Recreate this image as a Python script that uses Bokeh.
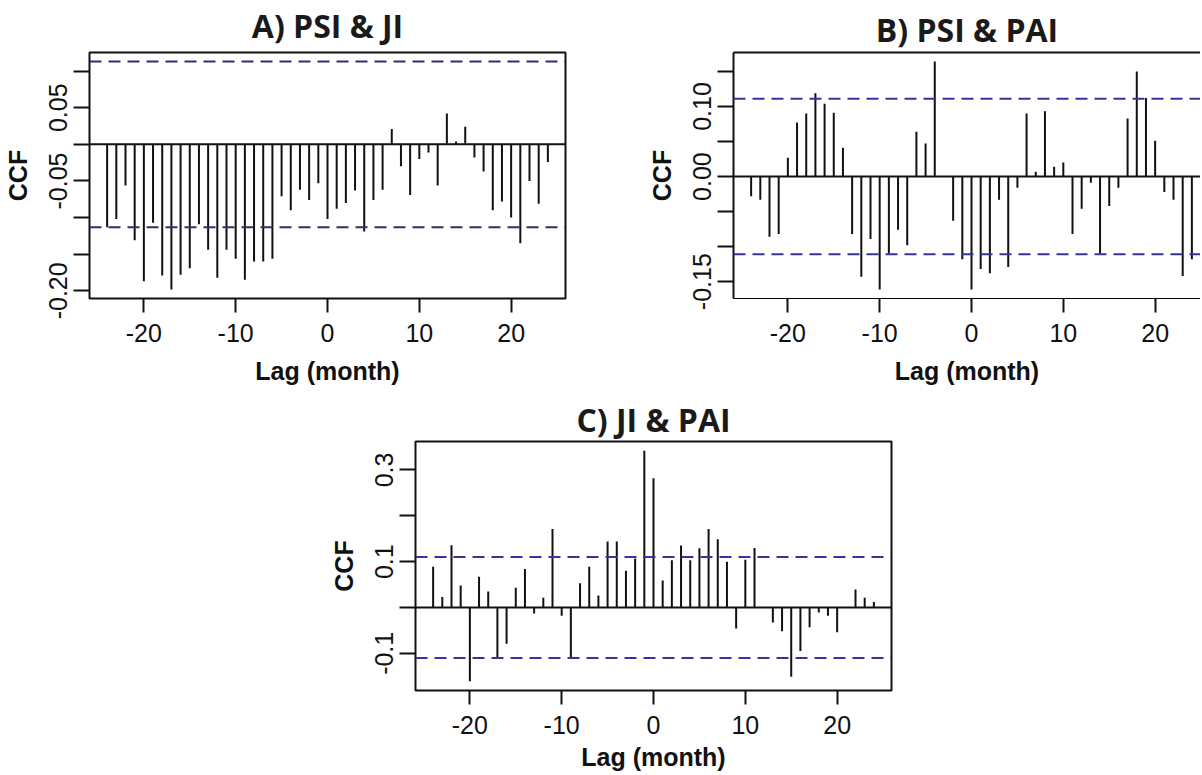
from bokeh.plotting import figure
from bokeh.models import (Span, FixedTicker, Spacer, LinearAxis, ColumnDataSource,
                          PrintfTickFormatter)
from bokeh.layouts import column, row
from bokeh.embed import file_html
from bokeh.resources import INLINE

# ---------------- data ----------------
LAGS = list(range(-24, 25))

CCF_PSI_JI = [-0.113, -0.102, -0.056, -0.131, -0.187, -0.107, -0.179, -0.198, -0.178, -0.169,
              -0.109, -0.144, -0.182, -0.144, -0.156, -0.185, -0.160, -0.160, -0.156, -0.071,
              -0.090, -0.062, -0.076, -0.053, -0.102, -0.088, -0.080, -0.063, -0.119, -0.076,
              -0.062, 0.021, -0.030, -0.069, -0.020, -0.011, -0.056, 0.042, 0.004, 0.024,
              -0.018, -0.037, -0.090, -0.078, -0.100, -0.135, -0.050, -0.081, -0.024]

CCF_PSI_PAI = [-0.028, -0.033, -0.086, -0.082, 0.027, 0.077, 0.090, 0.119, 0.104, 0.091,
               0.041, -0.082, -0.143, -0.089, -0.161, -0.110, -0.076, -0.098, 0.064, 0.047,
               0.164, 0.000, -0.063, -0.118, -0.161, -0.132, -0.138, -0.033, -0.129, -0.016,
               0.090, 0.007, 0.093, 0.014, 0.020, -0.082, -0.046, -0.009, -0.110, -0.042,
               -0.016, 0.083, 0.150, 0.112, 0.051, -0.022, -0.033, -0.142, -0.118]

CCF_JI_PAI = [0.089, 0.023, 0.136, 0.048, -0.161, 0.067, 0.035, -0.108, -0.079, 0.043,
              0.084, -0.013, 0.021, 0.171, -0.018, -0.108, 0.053, 0.089, 0.026, 0.144,
              0.144, 0.080, 0.107, 0.342, 0.282, 0.059, 0.103, 0.135, 0.103, 0.129,
              0.171, 0.149, 0.100, -0.046, 0.104, 0.130, 0.000, -0.033, -0.052, -0.151,
              -0.095, -0.043, -0.011, -0.018, -0.054, 0.000, 0.039, 0.021, 0.012]

CI_A = 0.113
CI_B = 0.111
CI_C = 0.110

TITLES = ["A) PSI & JI", "B) PSI & PAI", "C) JI & PAI"]
X_LABEL = "Lag (month)"
Y_LABEL = "CCF"
X_TICKS = [-20, -10, 0, 10, 20]

Y_TICKS_A = [-0.20, -0.05, 0.05]
Y_MINOR_A = [-0.15, -0.10, 0.0, 0.10]
Y_TICKS_B = [-0.15, 0.0, 0.10]
Y_MINOR_B = [-0.10, -0.05, 0.05, 0.15]
Y_TICKS_C = [-0.1, 0.1, 0.3]
Y_MINOR_C = [0.0, 0.2]

# ---------------- styling ----------------
TICK_FONT = "Liberation Sans"
TITLE_FONT = "Open Sans"
PX_PER_LAG = 476 / 51.84


def style_axis(ax, tick_out):
    ax.major_tick_in = 0
    ax.major_tick_out = tick_out
    ax.minor_tick_in = 0
    ax.minor_tick_out = tick_out
    ax.major_tick_line_width = 2
    ax.minor_tick_line_width = 2
    ax.major_tick_line_color = "#111111"
    ax.minor_tick_line_color = "#111111"
    ax.major_label_text_font = TICK_FONT
    ax.major_label_text_font_size = "25px"
    ax.major_label_text_color = "#111111"
    ax.axis_label_text_font = TICK_FONT
    ax.axis_label_text_font_size = "25px"
    ax.axis_label_text_font_style = "bold"
    ax.axis_label_text_color = "#111111"


def panel(vals, ci, yt, ym, fmt, title, width, height, mbl, mbr, mbt, mbb,
          ci_color, open_right=False, xlab_standoff=12, title_gap=11):
    lo = min(min(vals), -ci)
    hi = max(max(vals), ci)
    pad = 0.04 * (hi - lo)
    xpad = 0.04 * (max(LAGS) - min(LAGS))
    xs = min(LAGS) - xpad
    if open_right:
        frame_w = width - mbl - mbr
        xe = xs + frame_w / PX_PER_LAG
    else:
        xe = max(LAGS) + xpad
    p = figure(width=width, height=height, x_range=(xs, xe), y_range=(lo - pad, hi + pad),
               toolbar_location=None, output_backend="svg",
               min_border_left=mbl, min_border_right=mbr,
               min_border_top=mbt, min_border_bottom=mbb)
    p.background_fill_color = "white"
    p.border_fill_color = "white"
    p.grid.visible = False

    src = ColumnDataSource(dict(lag=LAGS, ccf=vals))
    p.segment(x0="lag", y0=0, x1="lag", y1="ccf", source=src,
              line_color="#111111", line_width=2)

    p.add_layout(Span(location=0, dimension="width", line_color="#111111", line_width=2))
    for loc in (ci, -ci):
        p.add_layout(Span(location=loc, dimension="width", line_color=ci_color,
                          line_width=2, line_dash="12 7"))

    p.xaxis.ticker = FixedTicker(ticks=X_TICKS)
    p.xaxis.formatter = PrintfTickFormatter(format="%d")
    p.yaxis.ticker = FixedTicker(ticks=yt, minor_ticks=ym)
    p.yaxis.formatter = PrintfTickFormatter(format=fmt)
    p.xaxis.axis_label = X_LABEL
    p.yaxis.axis_label = Y_LABEL
    style_axis(p.xaxis[0], 14)
    style_axis(p.yaxis[0], 16)
    p.xaxis.minor_tick_line_color = None
    p.yaxis.major_label_orientation = "vertical"
    p.xaxis.major_label_standoff = 11
    p.yaxis.major_label_standoff = 6
    p.xaxis.axis_label_standoff = xlab_standoff
    p.yaxis.axis_label_standoff = 15

    # panel title: carried by a tick-less axis above the frame
    top = LinearAxis(ticker=FixedTicker(ticks=[]), major_tick_line_color=None,
                     minor_tick_line_color=None, major_label_text_font_size="0px",
                     major_tick_out=0, major_label_standoff=0,
                     axis_label=title, axis_label_standoff=title_gap,
                     axis_label_text_font=TITLE_FONT, axis_label_text_font_size="32px",
                     axis_label_text_font_style="bold", axis_label_text_color="#1a1a1a")
    p.add_layout(top, "above")

    if open_right:
        p.outline_line_color = None
        for ax in (p.xaxis[0], p.yaxis[0], top):
            ax.axis_line_color = "#111111"
            ax.axis_line_width = 2
    else:
        p.outline_line_color = "#111111"
        p.outline_line_width = 2
        p.xaxis.axis_line_color = None
        p.yaxis.axis_line_color = None
        top.axis_line_color = None
    return p


pA = panel(CCF_PSI_JI, CI_A, Y_TICKS_A, Y_MINOR_A, "%.2f", TITLES[0],
           600, 392, 89, 35, 52, 91, "#2f2f6e", title_gap=6)
pB = panel(CCF_PSI_PAI, CI_B, Y_TICKS_B, Y_MINOR_B, "%.2f", TITLES[1],
           600, 392, 133, 0, 50, 94, "#3535a0", open_right=True, title_gap=2)
pC = panel(CCF_JI_PAI, CI_C, Y_TICKS_C, Y_MINOR_C, "%.1f", TITLES[2],
           591, 381, 95, 20, 49, 82, "#3535a0", xlab_standoff=6, title_gap=1)

layout = column(row(pA, pB), row(Spacer(width=320, height=381), pC))

open("out.html", "w").write(file_html(layout, INLINE))
